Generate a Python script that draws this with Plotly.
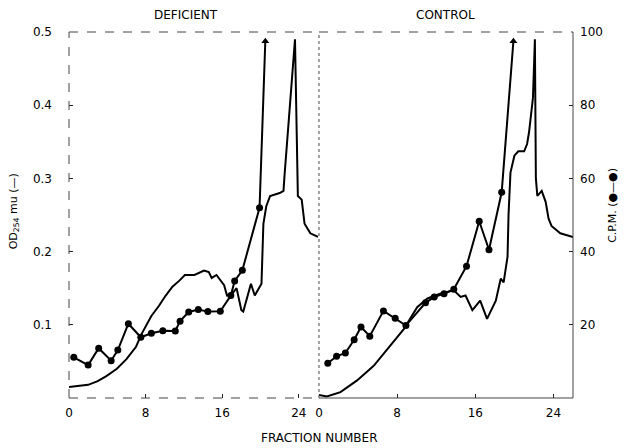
import plotly.graph_objects as go

# ---------------- data ----------------
# DEFICIENT panel
def_od_x = [0, 1, 2, 3, 3.9, 5, 6, 7, 7.6, 8.6, 9.4, 10.1, 10.8, 11.5, 12.1, 13.1, 14.1, 14.6, 14.9,
            15.4, 16.2, 16.5, 17.0, 17.5, 18.0, 18.2, 19.0, 19.4, 20.1, 20.3, 20.6, 21.0, 21.5, 22.0,
            22.4, 22.5, 23.6, 23.75, 23.9, 24.3, 24.6, 25.2, 26.0]
def_od_y = [0.015, 0.016, 0.018, 0.023, 0.030, 0.040, 0.053, 0.070, 0.088, 0.112, 0.126, 0.140, 0.152,
            0.160, 0.168, 0.168, 0.174, 0.172, 0.164, 0.168, 0.154, 0.140, 0.142, 0.150, 0.120, 0.118,
            0.156, 0.140, 0.156, 0.238, 0.262, 0.276, 0.278, 0.280, 0.283, 0.303, 0.490, 0.350, 0.276,
            0.271, 0.238, 0.225, 0.220]
def_cpm_x = [0.5, 2.0, 3.1, 4.4, 5.1, 6.2, 7.5, 8.6, 9.8, 11.1, 11.6, 12.5, 13.5, 14.5, 15.8, 16.9,
             17.3, 18.1, 19.9, 20.5]
def_cpm_y = [11.1, 9.0, 13.6, 10.2, 13.1, 20.3, 16.6, 17.7, 18.4, 18.3, 21.0, 23.5, 24.2, 23.6, 23.7,
             28.0, 32.0, 34.9, 52.0, 97.5]

# CONTROL panel
con_od_x = [0, 0.8, 2.2, 3.9, 5.6, 7.3, 8.7, 10.05, 11.1, 12.4, 13.8, 14.5, 15.0, 15.7, 16.5, 17.2,
            18.1, 18.6, 18.9, 19.3, 19.4, 19.6, 20.0, 20.4, 21.0, 21.3, 21.5, 21.9, 22.1, 22.2, 22.35,
            22.8, 23.2, 23.5, 23.8, 24.7, 26.0]
con_od_y = [0.004, 0.002, 0.008, 0.024, 0.044, 0.072, 0.0945, 0.124, 0.136, 0.1425, 0.147, 0.138, 0.140,
            0.120, 0.133, 0.108, 0.133, 0.163, 0.158, 0.193, 0.250, 0.308, 0.331, 0.337, 0.337, 0.347,
            0.363, 0.410, 0.490, 0.300, 0.276, 0.283, 0.268, 0.245, 0.235, 0.225, 0.220]
con_cpm_x = [0.9, 1.8, 2.7, 3.6, 4.3, 5.2, 6.6, 7.8, 8.9, 10.9, 11.8, 12.8, 13.8, 15.1, 16.4, 17.4,
             18.7, 19.9]
con_cpm_y = [9.5, 11.4, 12.3, 15.9, 19.4, 16.9, 23.8, 21.8, 19.8, 26.0, 27.6, 28.5, 29.7, 36.0, 48.3,
             40.5, 56.2, 97.5]

x_ticks = [0, 8, 16, 24]
od_ticks = [0.1, 0.2, 0.3, 0.4, 0.5]
cpm_ticks = [20, 40, 60, 80, 100]

# ---------------- figure ----------------
fig = go.Figure()
LW = 2
MS = 7


def cpm_symbols(n):
    return ["circle"] * (n - 1) + ["triangle-up"]


fig.add_trace(go.Scatter(x=def_od_x, y=def_od_y, mode="lines", xaxis="x", yaxis="y",
                         line=dict(color="black", width=LW), showlegend=False))
fig.add_trace(go.Scatter(x=def_cpm_x, y=def_cpm_y, mode="lines+markers", xaxis="x", yaxis="y2",
                         line=dict(color="black", width=LW),
                         marker=dict(color="black", size=MS, symbol=cpm_symbols(len(def_cpm_x))),
                         showlegend=False))
fig.add_trace(go.Scatter(x=con_od_x, y=con_od_y, mode="lines", xaxis="x2", yaxis="y",
                         line=dict(color="black", width=LW), showlegend=False))
fig.add_trace(go.Scatter(x=con_cpm_x, y=con_cpm_y, mode="lines+markers", xaxis="x2", yaxis="y2",
                         line=dict(color="black", width=LW),
                         marker=dict(color="black", size=MS, symbol=cpm_symbols(len(con_cpm_x))),
                         showlegend=False))

FAM = "DejaVu Sans, Liberation Sans, sans-serif"
FONT = dict(family=FAM, size=12, color="black")
L_DOM = [0, 0.494]
R_DOM = [0.496, 1]

axis_common = dict(showgrid=False, zeroline=False, showline=False, ticks="inside", ticklen=4,
                   tickcolor="#222", tickfont=FONT)

# the page body adds an 8px offset, so the figure is sized/margined to compensate
fig.update_layout(
    width=619, height=440,
    margin=dict(l=61, r=54, t=24, b=50, autoexpand=False),
    paper_bgcolor="white", plot_bgcolor="white",
    font=FONT,
    xaxis=dict(domain=L_DOM, range=[0, 26], tickvals=x_ticks, anchor="y",
               ticklabelstandoff=6, **axis_common),
    xaxis2=dict(domain=R_DOM, range=[0, 26], tickvals=x_ticks, anchor="y",
                ticklabelstandoff=6, **axis_common),
    yaxis=dict(domain=[0, 1], range=[0, 0.5], tickvals=od_ticks, anchor="x",
               tickformat=".1f", ticklabelstandoff=16, **axis_common),
    yaxis2=dict(domain=[0, 1], range=[0, 100], tickvals=cpm_ticks, anchor="x2", side="right",
                overlaying="y", ticklabelstandoff=6, **axis_common),
)

# panel frames
segs = [
    (L_DOM[0], 0, L_DOM[0], 1, "dash"),
    (L_DOM[0], 1, L_DOM[1], 1, "dash"),
    (L_DOM[0], 0, L_DOM[1], 0, "dash"),
    (R_DOM[0], 0, R_DOM[0], 1, "dot"),
    (R_DOM[0], 1, R_DOM[1], 1, "dash"),
    (R_DOM[0], 0, R_DOM[1], 0, "solid"),
    (R_DOM[1], 0, R_DOM[1], 1, "solid"),
]
for x0, y0, x1, y1, d in segs:
    fig.add_shape(x0=x0, y0=y0, x1=x1, y1=y1, type="line", xref="paper", yref="paper",
                  line=dict(color="#444", width=1, dash=d))

ann_font = dict(family=FAM, size=12, color="black")
lab_font = dict(family=FAM, size=11, color="black")
fig.add_annotation(text="DEFICIENT", x=0.232, y=1, xref="paper", yref="paper", xanchor="center",
                   yanchor="bottom", yshift=8, showarrow=False, font=ann_font)
fig.add_annotation(text="CONTROL", x=0.748, y=1, xref="paper", yref="paper", xanchor="center",
                   yanchor="bottom", yshift=8, showarrow=False, font=ann_font)
fig.add_annotation(text="FRACTION NUMBER", x=0.498, y=0, xref="paper", yref="paper",
                   xanchor="center", yanchor="middle", yshift=-40, showarrow=False, font=ann_font)
fig.add_annotation(text="OD<sub>254</sub> mu (—)", x=0, y=0.51, xref="paper", yref="paper",
                   xanchor="center", xshift=-55, textangle=-90, showarrow=False, font=lab_font)
fig.add_annotation(text="C.P.M. (●—●)", x=1, y=0.525, xref="paper", yref="paper",
                   xanchor="center", xshift=40, textangle=-90, showarrow=False, font=lab_font)

fig.write_html("out.html")
